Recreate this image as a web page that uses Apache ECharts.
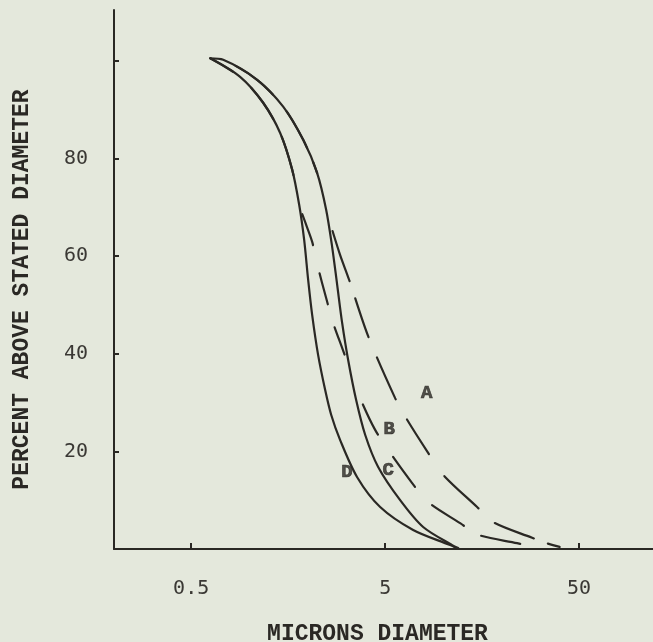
<!DOCTYPE html>
<html>
<head>
<meta charset="utf-8">
<script src="https://cdn.jsdelivr.net/npm/echarts@6/dist/echarts.min.js"></script>
<style>
html,body{margin:0;padding:0;background:#e4e8dc;}
#chart{width:653px;height:642px;}
</style>
</head>
<body>
<div id="chart"></div>
<script>
// Curve D (solid, inner)
const diameterD = [0.627, 0.894, 1.175, 1.438, 1.658, 1.802, 1.912, 2.005, 2.103, 2.257, 2.452, 2.634, 2.931, 3.587, 4.712, 6.971, 10.82, 11.62];
const percentD  = [100.5, 96.7, 91.4, 85.2, 77.7, 70.5, 63.3, 55.1, 47.9, 39.7, 32.6, 27.5, 22.3, 14.7, 8.6, 3.9, 0.8, 0.2];
// Curve C (solid, outer)
const diameterC = [0.627, 0.731, 1.094, 1.490, 1.890, 2.231, 2.482, 2.665, 2.829, 3.001, 3.223, 3.544, 3.943, 4.602, 5.975, 7.850, 11.08, 11.90];
const percentC  = [100.5, 100.2, 96.1, 90.6, 83.8, 77.0, 69.5, 61.9, 54.1, 46.3, 38.7, 30.5, 23.4, 16.8, 10.0, 4.5, 0.8, 0.2];
// Curve B (dashed, follows D at the top)
const diameterB = [0.627, 0.894, 1.175, 1.438, 1.658, 1.802, 1.958, 2.103, 2.257, 2.482, 2.697, 3.001, 3.340, 3.716, 4.440, 5.306, 6.890, 8.330, 12.18, 15.08, 23.95, 29.66];
const percentB  = [100.5, 96.7, 91.4, 85.2, 77.7, 70.5, 66.4, 62.9, 57.6, 51.4, 46.3, 41.2, 36.1, 30.9, 24.4, 19.7, 13.5, 9.6, 5.3, 2.9, 1.2, 0.4];
// Curve A (dashed, follows C at the top)
const diameterA = [0.627, 0.731, 1.094, 1.490, 1.890, 2.231, 2.482, 2.665, 2.931, 3.262, 4.086, 5.630, 6.417, 8.330, 9.953, 14.90, 18.02, 28.62, 33.81, 39.9];
const percentA  = [100.5, 100.2, 96.1, 90.6, 83.8, 77.0, 69.5, 65.4, 60.2, 55.1, 43.6, 30.9, 26.8, 19.7, 15.2, 8.6, 5.5, 2.3, 1.2, 0.4];
// Curve labels
const curveNames = ['A', 'B', 'C', 'D'];
const curveLabelDiameter = [8.2, 5.24, 5.18, 3.18];
const curveLabelPercent  = [32, 24.6, 16.2, 15.8];
// Axis ticks
const xTickValues = [0.5, 5, 50];
const yTickValues = [20, 40, 60, 80, 100];
const yLabelValues = [20, 40, 60, 80];

const lg = v => Math.log10(v);
const pts = (ds, ps) => ds.map((d, i) => [lg(d), ps[i]]);
const ink = '#2a2824';

// hand-drawn dash patterns (irregular, as in the original drawing)
const dashB = [33, 29, 32, 24, 29, 53, 34, 27, 37, 25, 38, 20, 40, 40];
const dashA = [53, 18, 41, 22, 46, 23, 41, 27, 47, 22, 42, 15, 12, 60];
const sum = a => a.reduce((s, v) => s + v, 0);

const chart = echarts.init(document.getElementById('chart'), null, {renderer: 'canvas'});
const lineBase = (name, data, type, width, offset) => ({
  name, type: 'line', data, smooth: 0.3, symbol: 'none', silent: true,
  lineStyle: {color: ink, width, type, dashOffset: offset || 0, cap: 'round'},
  animation: false
});
chart.setOption({
  backgroundColor: '#e4e8dc',
  animation: false,
  grid: {left: 114, top: 10, right: 0, bottom: 93, containLabel: false, outerBoundsMode: 'none'},
  xAxis: {
    type: 'value', min: lg(0.2), max: lg(120.2),
    name: 'MICRONS DIAMETER', nameLocation: 'middle', nameGap: 74,
    nameTextStyle: {fontFamily: 'Liberation Mono', fontWeight: 'bold', fontSize: 23, color: ink, padding: [0, 12, 0, 0]},
    axisLine: {show: true, onZero: false, lineStyle: {color: ink, width: 2}},
    axisTick: {show: true, inside: true, length: 6, customValues: xTickValues.map(lg), lineStyle: {color: ink, width: 2}},
    axisLabel: {show: true, customValues: xTickValues.map(lg), margin: 30,
      fontFamily: 'DejaVu Sans Mono', fontSize: 20, color: '#3a3834',
      formatter: v => String(Math.round(Math.pow(10, v) * 10) / 10)},
    splitLine: {show: false}
  },
  yAxis: {
    type: 'value', min: 0, max: 110.4,
    name: 'PERCENT ABOVE STATED DIAMETER', nameLocation: 'middle', nameGap: 80, nameRotate: 90,
    nameTextStyle: {fontFamily: 'Liberation Mono', fontWeight: 'bold', fontSize: 23, color: ink, padding: [0, 20, 0, 0]},
    axisLine: {show: true, onZero: false, lineStyle: {color: ink, width: 2}},
    axisTick: {show: true, inside: true, length: 5, customValues: yTickValues, lineStyle: {color: ink, width: 2}},
    axisLabel: {show: true, customValues: yLabelValues, margin: 26, padding: [18, 0, 0, 0],
      fontFamily: 'DejaVu Sans Mono', fontSize: 20, color: '#3a3834'},
    splitLine: {show: false}
  },
  series: [
    lineBase('D', pts(diameterD, percentD), 'solid', 2.2),
    lineBase('C', pts(diameterC, percentC), 'solid', 2.2),
    lineBase('B', pts(diameterB, percentB), dashB, 2.2, sum(dashB) - 189),
    lineBase('A', pts(diameterA, percentA), dashA, 2.2, sum(dashA) - 225),
    {
      name: 'labels', type: 'scatter', symbolSize: 0, silent: true, animation: false,
      data: curveNames.map((n, i) => ({value: [lg(curveLabelDiameter[i]), curveLabelPercent[i]], name: n})),
      label: {show: true, position: 'inside', formatter: p => p.name,
        fontFamily: 'Liberation Mono', fontWeight: 'bold', fontSize: 19, color: ink,
        textBorderColor: ink, textBorderWidth: 0.7}
    }
  ]
});
</script>
</body>
</html>
